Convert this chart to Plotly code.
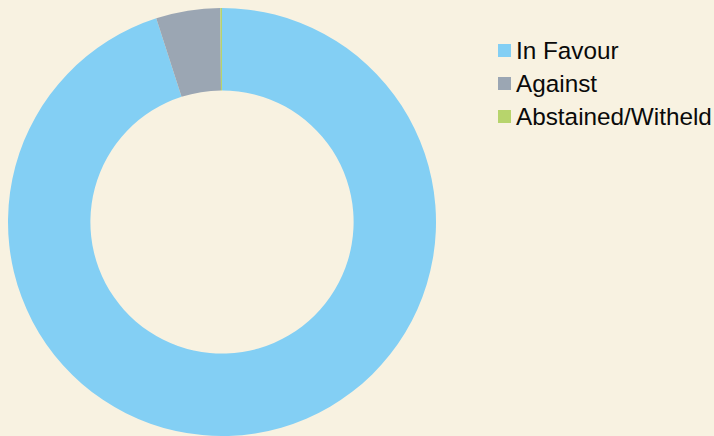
import plotly.graph_objects as go

labels = ["In Favour", "Against", "Abstained/Witheld"]
values = [95.0, 4.85, 0.12]
colors = ["#83CFF4", "#9BA6B3", "#B7D46C"]

W, H = 714, 436

fig = go.Figure(go.Pie(
    labels=labels,
    values=values,
    hole=0.615,
    sort=False,
    direction="clockwise",
    rotation=0,
    marker=dict(colors=colors, line=dict(width=0)),
    textinfo="none",
    hoverinfo="label+percent",
    showlegend=False,
    domain=dict(x=[8/W, 436/W], y=[0, 428/H]),
))

# custom legend built from the label/colour lists
leg_x_sq = 498
leg_x_txt = 514
leg_y0 = 50.5
leg_dy = 33
sq = 13
for i, (lab, col) in enumerate(zip(labels, colors)):
    cy = leg_y0 + i * leg_dy
    fig.add_shape(
        type="rect", xref="paper", yref="paper",
        x0=leg_x_sq / W, x1=(leg_x_sq + sq) / W,
        y0=1 - (cy - sq / 2) / H, y1=1 - (cy + sq / 2) / H,
        fillcolor=col, line=dict(width=0),
    )
    fig.add_annotation(
        x=leg_x_txt / W, y=1 - cy / H, xref="paper", yref="paper",
        xanchor="left", yanchor="middle", showarrow=False,
        text=lab,
        font=dict(family="Liberation Sans, Arial, sans-serif", size=24.3, color="#0a0a0a"),
    )

fig.update_layout(
    width=W, height=H,
    margin=dict(l=0, r=0, t=0, b=0),
    paper_bgcolor="#F8F2E1",
    plot_bgcolor="#F8F2E1",
    showlegend=False,
)

fig.write_html("out.html", config={"displayModeBar": False},
               post_script="document.body.style.margin='0';")
